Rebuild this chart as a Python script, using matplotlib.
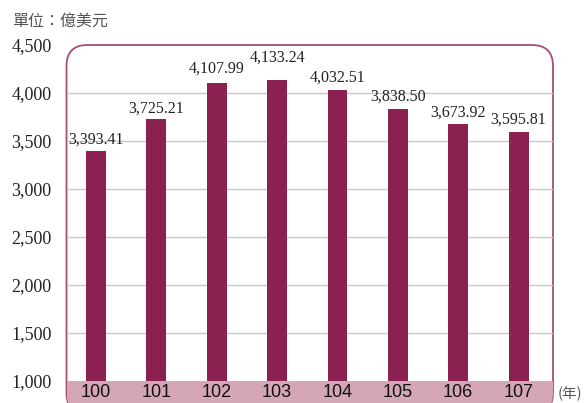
import matplotlib
matplotlib.use("Agg")
import matplotlib.pyplot as plt
from matplotlib.patches import FancyBboxPatch, Rectangle
from matplotlib.transforms import Affine2D

years = ["100", "101", "102", "103", "104", "105", "106", "107"]
values = [3393.41, 3725.21, 4107.99, 4133.24, 4032.51, 3838.50, 3673.92, 3595.81]
yticks = [1000, 1500, 2000, 2500, 3000, 3500, 4000, 4500]

W, H = 586, 403
fig = plt.figure(figsize=(W / 100, H / 100), dpi=100)

bar_color = "#8B2150"
band_color = "#D4A6B6"
edge_color = "#A84C76"

# pixel transform (origin bottom-left of figure)
pix = Affine2D().scale(1 / W, 1 / H) + fig.transFigure

# axes occupying region x 67..553 px, y 45..403 px from top
ax = fig.add_axes([67 / W, 0, (553 - 67) / W, (403 - 45) / H])
ax.set_xlim(-0.48, 7.57)
ax.set_ylim(770.8, 4500)
ax.set_facecolor("none")
for s in ax.spines.values():
    s.set_visible(False)

frame = FancyBboxPatch((66.5, -11), 553 - 66.5, 358 + 11,
                       boxstyle="round,pad=0,rounding_size=21",
                       transform=pix, facecolor="white", edgecolor=edge_color,
                       linewidth=1.3, zorder=0.5, clip_on=False)
ax.add_patch(frame)

band = Rectangle((-1, 0), 20, 1000, facecolor=band_color, edgecolor="none", zorder=1)
ax.add_patch(band)
band.set_clip_path(frame)

for t in yticks[1:-1]:
    ax.axhline(t, color="#C8C8C8", linewidth=1, zorder=1.2)

x = list(range(len(years)))
ax.bar(x, [v - 1000 for v in values], bottom=1000, width=0.33, color=bar_color, zorder=3)

# label vertical offsets in pixels (103 raised to avoid overlap, as in the source)
label_offsets = [8, 7, 10, 19, 8, 8, 8, 8]
for xi, v, off in zip(x, values, label_offsets):
    ax.annotate(f"{v:,.2f}", (xi, v), xytext=(0, off * 0.72), textcoords="offset points",
                ha="center", va="baseline", fontsize=11.5, family="Liberation Serif",
                color="#222222", zorder=4)

ax.set_yticks(yticks)
ax.set_yticklabels([f"{t:,}" for t in yticks], family="Liberation Serif", fontsize=13,
                   color="#222222")
ax.tick_params(axis="y", length=0, pad=11)
ax.set_xticks([])
for xi, lab in zip(x, years):
    ax.annotate(lab, (xi, 1000), xytext=(0, -2.5), textcoords="offset points",
                ha="center", va="top", fontsize=13, family="Liberation Sans",
                color="#111111", zorder=5, annotation_clip=False)

fig.text(12 / W, 1 - 21 / H, "單位：億美元", family=["Noto Sans CJK TC", "DejaVu Sans"],
         fontsize=11.5, color="#555555", va="center", ha="left")
fig.text(558 / W, 1 - 394 / H, "(年)", family=["Noto Sans CJK TC", "DejaVu Sans"],
         fontsize=10.5, color="#555555", va="center", ha="left")

fig.savefig("out.png", dpi=100)
